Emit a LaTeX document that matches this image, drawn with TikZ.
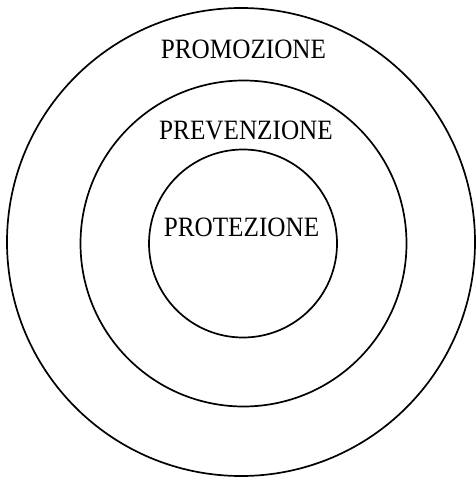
\documentclass[tikz,border=0pt]{standalone}
\usepackage{fontspec}
\setmainfont[FakeStretch=0.9]{Liberation Serif}
\usetikzlibrary{positioning}
\tikzset{
  ring/.style={draw, circle, line width=1.7pt, inner sep=0pt},
  ringlabel/.style={font=\fontsize{28}{32}\selectfont, anchor=base, inner sep=0pt}
}
\begin{document}
\begin{tikzpicture}[x=1pt, y=-1pt]
  \useasboundingbox (0,0) rectangle (475,478);
  \node[ring, minimum size=468pt] (promo) at (241,242) {};
  \node[ring, minimum size=326pt] (preven) at (243.5,243.5) {};
  \node[ring, minimum size=188pt] (protez) at (243,243.5) {};
  \node[ringlabel] (promolbl) at (243.5,59) {PROMOZIONE};
  \node[ringlabel] (prevenlbl) at (246,140) {PREVENZIONE};
  \node[ringlabel] (protezlbl) at (241.5,236) {PROTEZIONE};
\end{tikzpicture}
\end{document}
